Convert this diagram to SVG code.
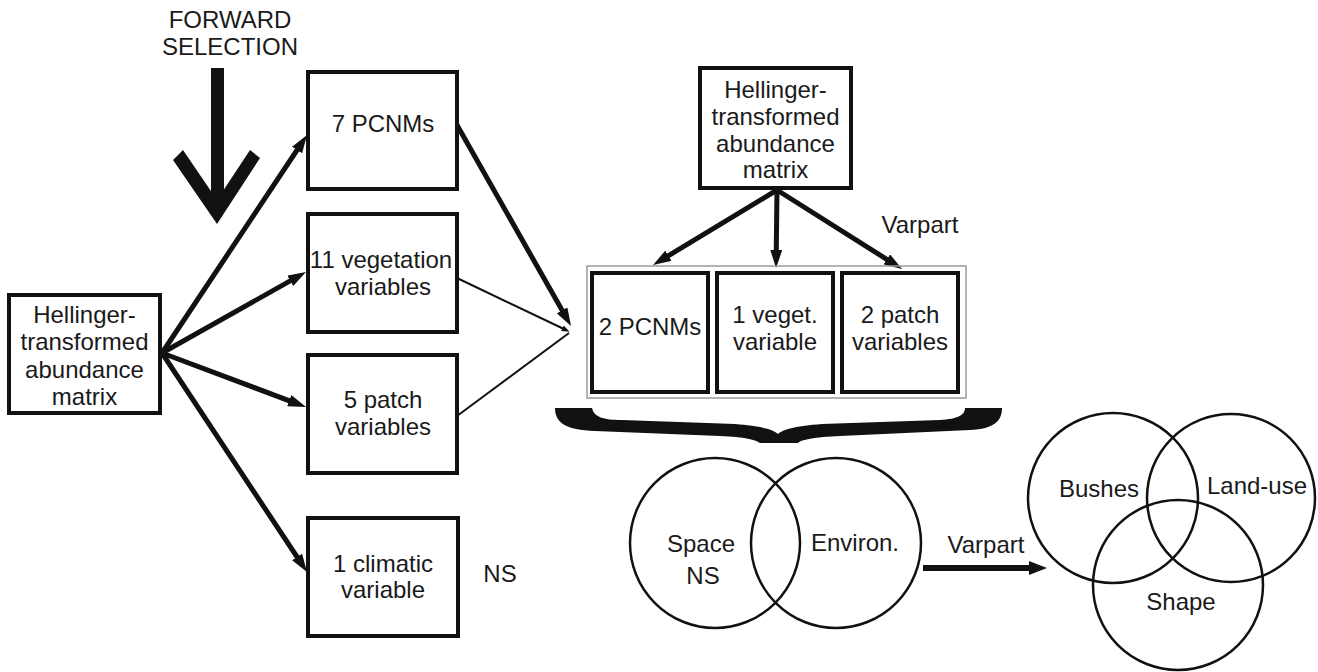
<svg xmlns="http://www.w3.org/2000/svg" width="1318" height="672" viewBox="0 0 1318 672">
<defs>
<style>
text{font-family:"Liberation Sans",Arial,sans-serif;font-size:24px;fill:#1a1a1a;text-anchor:middle}
.box{fill:#fff;stroke:#111;stroke-width:4}
.circ{fill:none;stroke:#111;stroke-width:2.5}
.thick{stroke:#111;stroke-width:5;fill:none}
.thin{stroke:#111;stroke-width:2;fill:none}
</style>
<marker id="ah" markerUnits="userSpaceOnUse" markerWidth="18" markerHeight="12" refX="6" refY="6" orient="auto">
<path d="M0,0 L18,6 L0,12 z" fill="#111"/>
</marker>
<marker id="ahs" markerUnits="userSpaceOnUse" markerWidth="8" markerHeight="6" refX="4" refY="3" orient="auto">
<path d="M0,0 L8,3 L0,6 z" fill="#111"/>
</marker>
<marker id="ahb" markerUnits="userSpaceOnUse" markerWidth="18" markerHeight="14" refX="6" refY="7" orient="auto">
<path d="M0,0 L18,7 L0,14 z" fill="#111"/>
</marker>
</defs>
<rect width="1318" height="672" fill="#fff"/>

<g id="forward-selection">
<text x="230" y="28" font-size="23">FORWARD</text>
<text x="230" y="55" font-size="23">SELECTION</text>
<rect x="211" y="68" width="13" height="140" fill="#111"/>
<polygon points="173,160 183,150 217,200 250,150 260,158 217,224" fill="#111"/>
</g>

<g id="connectors">
<line class="thick" x1="162" y1="353" x2="300.4" y2="145" marker-end="url(#ah)"/>
<line class="thick" x1="162" y1="353" x2="295.5" y2="277.9" marker-end="url(#ah)"/>
<line class="thick" x1="162" y1="353" x2="294.8" y2="402.8" marker-end="url(#ah)"/>
<line class="thick" x1="162" y1="353" x2="300.4" y2="562" marker-end="url(#ah)"/>
<line class="thick" x1="457" y1="125" x2="565.1" y2="315.6" marker-end="url(#ah)"/>
<line class="thin" x1="457" y1="278" x2="566" y2="330" marker-end="url(#ahs)"/>
<line class="thin" x1="457" y1="416" x2="569" y2="333"/>
<line class="thick" x1="777" y1="190" x2="663.3" y2="258.8" marker-end="url(#ah)"/>
<line class="thick" x1="777" y1="190" x2="776.2" y2="256" marker-end="url(#ah)"/>
<line class="thick" x1="777" y1="190" x2="891.9" y2="262.6" marker-end="url(#ah)"/>
<line x1="923" y1="568" x2="1035" y2="568" stroke="#111" stroke-width="6" marker-end="url(#ahb)"/>
</g>

<g id="hellinger-left">
<rect class="box" x="9" y="295" width="151" height="118"/>
<text x="84.5" y="323">Hellinger-</text>
<text x="84.5" y="350">transformed</text>
<text x="84.5" y="378">abundance</text>
<text x="84.5" y="405">matrix</text>
</g>

<g id="pcnm7">
<rect class="box" x="308" y="72" width="149" height="117"/>
<text x="383" y="132">7 PCNMs</text>
</g>

<g id="veg11">
<rect class="box" x="308" y="214" width="149" height="118"/>
<text x="381" y="268">11 vegetation</text>
<text x="383" y="295">variables</text>
</g>

<g id="patch5">
<rect class="box" x="308" y="355" width="149" height="118"/>
<text x="383" y="408">5 patch</text>
<text x="383" y="435">variables</text>
</g>

<g id="climatic1">
<rect class="box" x="308" y="518" width="150" height="118"/>
<text x="383" y="572">1 climatic</text>
<text x="383" y="598">variable</text>
</g>

<g id="ns-label">
<text x="500" y="582">NS</text>
</g>

<g id="hellinger-top">
<rect class="box" x="700" y="68" width="151" height="120"/>
<text x="775.5" y="98">Hellinger-</text>
<text x="775.5" y="125">transformed</text>
<text x="775.5" y="152">abundance</text>
<text x="775.5" y="178">matrix</text>
</g>

<g id="varpart-top">
<text x="920" y="233">Varpart</text>
</g>

<g id="selected-group">
<rect x="587" y="266" width="379" height="132" fill="none" stroke="#9a9a9a" stroke-width="1.5"/>
</g>

<g id="pcnm2">
<rect class="box" x="592" y="273" width="116" height="119"/>
<text x="650" y="335">2 PCNMs</text>
</g>

<g id="veget1">
<rect class="box" x="717" y="273" width="116" height="119"/>
<text x="775" y="323">1 veget.</text>
<text x="775" y="350">variable</text>
</g>

<g id="patch2">
<rect class="box" x="842" y="273" width="116" height="119"/>
<text x="900" y="323">2 patch</text>
<text x="900" y="350">variables</text>
</g>

<g id="brace">
<path d="M555,408 L592,408 C594,417 603,420 622,420 L735,424 C760,426 772,429 778,434 C784,429 796,426 822,424 L940,420 C958,419 965,415 965,408 L1002,408 C1002,421 994,429 970,430 L840,436 C815,437 800,440 798,443 L760,443 C756,440 745,437 720,436 L595,431 C566,430 555,423 555,408 Z" fill="#111"/>
</g>

<g id="venn-space-env">
<circle class="circ" cx="715" cy="543" r="85"/>
<circle class="circ" cx="836" cy="543" r="85"/>
<text x="701" y="552">Space</text>
<text x="703" y="584">NS</text>
<text x="855" y="551">Environ.</text>
</g>

<g id="varpart-bottom">
<text x="986" y="553">Varpart</text>
</g>

<g id="venn-three">
<circle class="circ" cx="1113" cy="498" r="85"/>
<circle class="circ" cx="1231" cy="498" r="84"/>
<circle class="circ" cx="1178" cy="585" r="85"/>
<text x="1099" y="497">Bushes</text>
<text x="1257" y="494">Land-use</text>
<text x="1181" y="610">Shape</text>
</g>
</svg>
